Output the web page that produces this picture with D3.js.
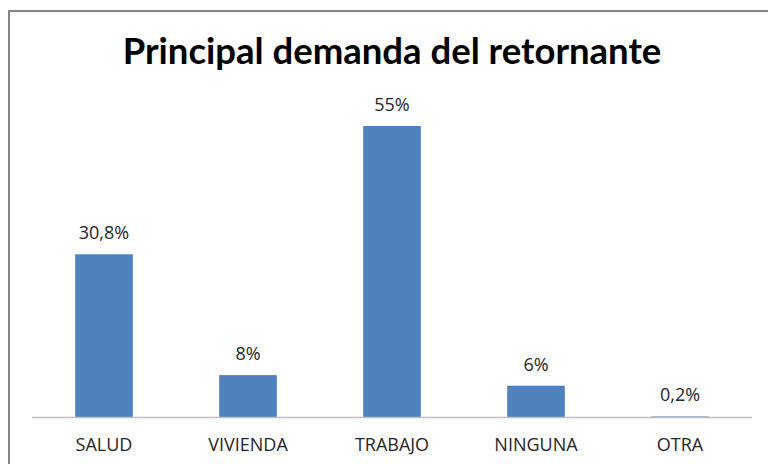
<!DOCTYPE html>
<html>
<head>
<meta charset="utf-8">
<script src="https://cdn.jsdelivr.net/npm/d3@7"></script>
<style>
  body { margin: 0; background: #fff; }
  svg { display: block; }
</style>
</head>
<body>
<svg id="chart" width="768" height="464"></svg>
<script>
// chart data
const categories = ["SALUD", "VIVIENDA", "TRABAJO", "NINGUNA", "OTRA"];
const values = [30.8, 8, 55, 6, 0.2];
const valueLabels = ["30,8%", "8%", "55%", "6%", "0,2%"];

const svg = d3.select("#chart");

// outer frame (right and bottom edge run past the picture)
svg.append("rect")
    .attr("x", 9).attr("y", 11)
    .attr("width", 780).attr("height", 480)
    .attr("fill", "#fff")
    .attr("stroke", "#868686")
    .attr("stroke-width", 2);

svg.append("text")
    .attr("x", 392).attr("y", 64)
    .attr("text-anchor", "middle")
    .attr("font-family", "Lato, sans-serif")
    .attr("font-weight", "bold")
    .attr("font-size", 36.5)
    .attr("fill", "#000")
    .text("Principal demanda del retornante");

const x = d3.scaleBand()
    .domain(categories)
    .range([32, 752])
    .paddingInner(0.6)
    .paddingOuter(0.3);

const y = d3.scaleLinear()
    .domain([0, 55])
    .range([417.5, 126]);

svg.selectAll("rect.bar")
    .data(values)
    .join("rect")
    .attr("class", "bar")
    .attr("x", (d, i) => x(categories[i]))
    .attr("y", d => y(d))
    .attr("width", x.bandwidth())
    .attr("height", d => y(0) - y(d))
    .attr("fill", "#4F81BD");

svg.selectAll("text.val")
    .data(values)
    .join("text")
    .attr("class", "val")
    .attr("x", (d, i) => x(categories[i]) + x.bandwidth() / 2)
    .attr("y", d => y(d) - 15)
    .attr("text-anchor", "middle")
    .attr("font-family", "Open Sans, sans-serif")
    .attr("font-size", 18)
    .attr("fill", "#262626")
    .text((d, i) => valueLabels[i]);

// category axis
const axis = svg.append("g")
    .attr("transform", `translate(0,${y(0)})`)
    .call(d3.axisBottom(x).tickSize(0).tickPadding(21));
axis.select(".domain").attr("stroke", "#BFBFBF").attr("stroke-width", 1.5)
    .attr("d", "M32,0H752");
axis.selectAll("text")
    .attr("font-family", "Open Sans, sans-serif")
    .attr("font-size", 18)
    .attr("fill", "#262626");
</script>
</body>
</html>
